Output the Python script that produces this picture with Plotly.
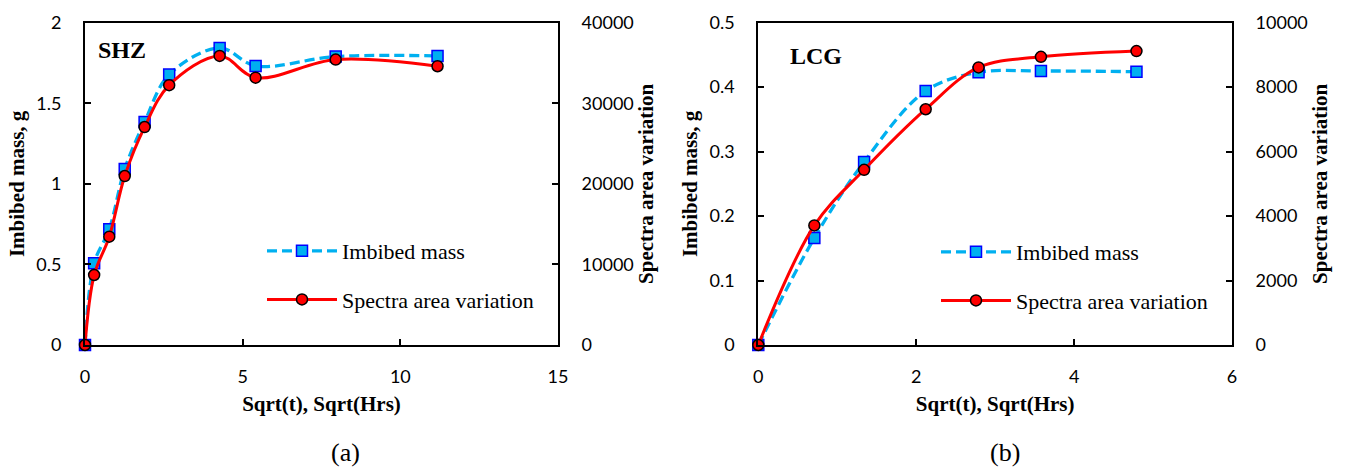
import plotly.graph_objects as go

# ---- data ----
shz_x = [0, 0.29, 0.77, 1.26, 1.89, 2.67, 4.27, 5.41, 7.95, 11.18]
shz_mass = [0, 0.507, 0.718, 1.092, 1.384, 1.678, 1.843, 1.732, 1.790, 1.794]
shz_spectra = [0, 8687, 13444, 20972, 27050, 32250, 35880, 33174, 35420, 34600]

lcg_x = [0, 0.71, 1.34, 2.12, 2.79, 3.58, 4.79]
lcg_mass = [0, 0.166, 0.284, 0.394, 0.423, 0.425, 0.424]
lcg_spectra = [0, 3710, 5435, 7315, 8612, 8942, 9120]

x_ticks_a = [0, 5, 10, 15]
x_ticks_b = [0, 2, 4, 6]

names = ["Imbibed mass", "Spectra area variation"]
panel_titles = ["SHZ", "LCG"]
panel_labels = ["(a)", "(b)"]

BLUE_LINE = "#00B0F0"
RED = "#FF0000"
SERIF = "Liberation Serif"
SANS = "Lato"

W, H = 1346, 471


def px_x(p):
    return p / W


def px_y(p):
    return 1 - p / H


fig = go.Figure()


def add_pair(xv, mass, spec, xa, ya_left, ya_right, leg, grp):
    fig.add_trace(go.Scatter(
        x=xv, y=mass, name=names[0], mode="lines+markers",
        line=dict(color=BLUE_LINE, width=3.3, dash="10px,5px", shape="spline", smoothing=1),
        marker=dict(symbol="square", size=11, color=BLUE_LINE, line=dict(color="#0000FF", width=1.5)),
        xaxis=xa, yaxis=ya_left, legend=leg, legendgroup=grp + "1", cliponaxis=False,
    ))
    fig.add_trace(go.Scatter(
        x=xv, y=spec, name=names[1], mode="lines+markers",
        line=dict(color=RED, width=3, shape="spline", smoothing=1),
        marker=dict(symbol="circle", size=11, color=RED, line=dict(color="black", width=1.5)),
        xaxis=xa, yaxis=ya_right, legend=leg, legendgroup=grp + "2", cliponaxis=False,
    ))


add_pair(shz_x, shz_mass, shz_spectra, "x", "y", "y2", "legend", "a")
add_pair(lcg_x, lcg_mass, lcg_spectra, "x2", "y3", "y4", "legend2", "b")

ydom = [px_y(345), px_y(22.7)]
dom_a = [px_x(85), px_x(558)]
dom_b = [px_x(758.3), px_x(1232)]

tickfont = dict(family=SANS, size=18, color="black")
titlefont = dict(family=SERIF, size=21, color="black", weight="bold")

common_axis = dict(
    showline=True, linecolor="black", linewidth=2, ticks="inside", ticklen=6,
    tickwidth=1.5, tickcolor="black", showgrid=False, zeroline=False,
    tickfont=tickfont, fixedrange=True, automargin=False,
)

xa = dict(common_axis, mirror=True, ticklabelstandoff=14,
          title=dict(text="Sqrt(t), Sqrt(Hrs)", font=titlefont, standoff=11))

legend_common = dict(
    xanchor="left", yanchor="top", bgcolor="rgba(0,0,0,0)",
    font=dict(family=SERIF, size=22, color="black"),
    traceorder="grouped", tracegroupgap=17, itemwidth=70,
)

fig.update_layout(
    width=W, height=H, margin=dict(l=0, r=0, t=0, b=0, pad=0, autoexpand=False),
    paper_bgcolor="white", plot_bgcolor="white", showlegend=True,
    xaxis=dict(xa, domain=dom_a, range=[0, 15], tickvals=x_ticks_a, anchor="y"),
    xaxis2=dict(xa, domain=dom_b, range=[0, 6], tickvals=x_ticks_b, anchor="y3"),
    yaxis=dict(common_axis, domain=ydom, range=[0, 2], dtick=0.5, anchor="x",
               ticklabelstandoff=18,
               title=dict(text="Imbibed mass, g", font=titlefont, standoff=6)),
    yaxis2=dict(common_axis, domain=ydom, range=[0, 40000], dtick=10000, tickformat="d",
                overlaying="y", side="right", anchor="x", ticklabelstandoff=18,
                title=dict(text="Spectra area variation", font=titlefont, standoff=6)),
    yaxis3=dict(common_axis, domain=ydom, range=[0, 0.5], dtick=0.1, anchor="x2",
                ticklabelstandoff=18,
                title=dict(text="Imbibed mass, g", font=titlefont, standoff=6)),
    yaxis4=dict(common_axis, domain=ydom, range=[0, 10000], dtick=2000, tickformat="d",
                overlaying="y3", side="right", anchor="x2", ticklabelstandoff=18,
                title=dict(text="Spectra area variation", font=titlefont, standoff=6)),
    legend=dict(legend_common, x=px_x(262), y=px_y(230)),
    legend2=dict(legend_common, x=px_x(936), y=px_y(231)),
)

annos = [
    dict(text=panel_titles[0], x=px_x(96), y=px_y(50), xanchor="left", yanchor="middle",
         font=dict(family=SERIF, size=24, color="black", weight="bold")),
    dict(text=panel_titles[1], x=px_x(788), y=px_y(56), xanchor="left", yanchor="middle",
         font=dict(family=SERIF, size=24, color="black", weight="bold")),
    dict(text=panel_labels[0], x=px_x(346), y=px_y(452), xanchor="center", yanchor="middle",
         font=dict(family=SERIF, size=26, color="black")),
    dict(text=panel_labels[1], x=px_x(1005), y=px_y(452), xanchor="center", yanchor="middle",
         font=dict(family=SERIF, size=26, color="black")),
]
for a in annos:
    a.update(xref="paper", yref="paper", showarrow=False)
fig.update_layout(annotations=annos)

fig.write_html("out.html")
